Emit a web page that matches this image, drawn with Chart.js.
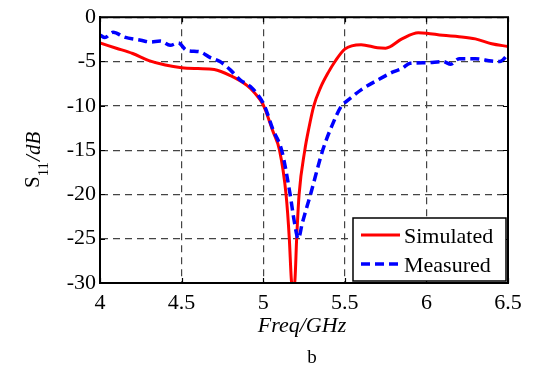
<!DOCTYPE html>
<html>
<head>
<meta charset="utf-8">
<script src="https://cdn.jsdelivr.net/npm/chart.js@4"></script>
<style>
html,body{margin:0;padding:0;background:#fff;}
#wrap{width:534px;height:366px;position:relative;}
</style>
</head>
<body>
<div id="wrap"><canvas id="c" width="534" height="366"></canvas></div>
<script>
// ---- data ----
const simFreq = [4.0,4.1,4.2,4.3,4.4,4.5,4.6,4.7,4.8,4.9,4.95,5.0,5.06,5.1,5.14,5.16,5.172,5.182,5.195,5.205,5.22,5.255,5.28,5.31,5.35,5.4,5.44,5.5,5.6,5.7,5.75,5.85,5.95,6.0,6.1,6.2,6.3,6.4,6.5];
const simS11  = [-2.9,-3.5,-4.1,-4.9,-5.4,-5.7,-5.8,-5.9,-6.6,-7.7,-8.6,-9.9,-12.9,-15,-20,-25,-29.5,-31,-29.5,-25,-20,-15,-12.5,-10,-8.0,-6.2,-5.0,-3.6,-3.1,-3.45,-3.5,-2.45,-1.75,-1.8,-2.05,-2.2,-2.45,-3.0,-3.3];
const measFreq = [4.0,4.03,4.08,4.15,4.25,4.31,4.37,4.43,4.48,4.53,4.61,4.67,4.735,4.8,4.86,4.92,4.98,5.01,5.06,5.113,5.165,5.19,5.215,5.24,5.29,5.365,5.42,5.48,5.51,5.55,5.6,5.7,5.8,5.85,5.9,6.0,6.1,6.15,6.2,6.3,6.4,6.45,6.5];
const measS11  = [-2.0,-2.3,-1.7,-2.25,-2.6,-2.8,-2.7,-3.17,-2.9,-3.73,-3.9,-4.5,-5.0,-5.97,-7.1,-7.8,-9.1,-10.1,-12.7,-15,-20,-23,-25,-23.2,-20,-15,-12.3,-10,-9.5,-8.9,-8.2,-7.1,-6.15,-5.8,-5.2,-5.15,-5.0,-5.3,-4.7,-4.7,-4.95,-5.0,-4.2];
const xTicks = [4,4.5,5,5.5,6,6.5];
const yTicks = [0,-5,-10,-15,-20,-25,-30];
const seriesNames = ['Simulated','Measured'];
const xTitle = 'Freq/GHz';
const caption = 'b';

const SERIF = '"Liberation Serif","Times New Roman",serif';

const pts = (xs, ys) => xs.map((x,i)=>({x:x,y:ys[i]}));

const decor = {
  id:'decor',
  afterDatasetsDraw(chart){
    const ctx = chart.ctx, a = chart.chartArea;
    const xs = chart.scales.x, ys = chart.scales.y;
    ctx.save();
    // inner ticks
    ctx.strokeStyle = '#000'; ctx.lineWidth = 1.2; ctx.setLineDash([]);
    xTicks.forEach(v=>{
      const px = Math.round(xs.getPixelForValue(v))+0.5;
      ctx.beginPath(); ctx.moveTo(px,a.bottom); ctx.lineTo(px,a.bottom-5);
      ctx.moveTo(px,a.top); ctx.lineTo(px,a.top+5); ctx.stroke();
    });
    yTicks.forEach(v=>{
      const py = Math.round(ys.getPixelForValue(v))+0.5;
      ctx.beginPath(); ctx.moveTo(a.left,py); ctx.lineTo(a.left+5,py);
      ctx.moveTo(a.right,py); ctx.lineTo(a.right-5,py); ctx.stroke();
    });
    // frame
    ctx.lineWidth = 2;
    ctx.strokeRect(a.left, a.top, a.right-a.left, a.bottom-a.top);

    // legend
    const lx = 353, ly = 218, lw = 153, lh = 63;
    ctx.fillStyle = '#fff'; ctx.fillRect(lx,ly,lw,lh);
    ctx.lineWidth = 1.5; ctx.strokeStyle = '#000'; ctx.strokeRect(lx,ly,lw,lh);
    const ds = chart.data.datasets;
    const rows = [235, 264];
    ds.forEach((d,i)=>{
      ctx.beginPath();
      ctx.strokeStyle = d.borderColor; ctx.lineWidth = d.borderWidth;
      ctx.setLineDash(d.borderDash || []);
      ctx.moveTo(361, rows[i]); ctx.lineTo(400, rows[i]); ctx.stroke();
      ctx.setLineDash([]);
      ctx.fillStyle = '#000'; ctx.font = '22px ' + SERIF;
      ctx.textAlign = 'left'; ctx.textBaseline = 'alphabetic';
      ctx.fillText(d.label, 404, rows[i] + 8);
    });

    // x title
    ctx.fillStyle = '#000';
    ctx.font = 'italic 22px ' + SERIF;
    ctx.textAlign = 'center'; ctx.textBaseline = 'alphabetic';
    ctx.fillText(xTitle, 302, 332);
    // caption
    ctx.font = '19px ' + SERIF;
    ctx.fillText(caption, 312, 363);

    // y title: S_11/dB rotated
    ctx.translate(39, 188);
    ctx.rotate(-Math.PI/2);
    ctx.textAlign = 'left';
    ctx.font = '21px ' + SERIF;
    ctx.fillText('S', 0, 0);
    let w = ctx.measureText('S').width;
    ctx.font = '15px ' + SERIF;
    ctx.fillText('11', w, 9);
    w += ctx.measureText('11').width + 1;
    ctx.font = 'italic 21px ' + SERIF;
    ctx.fillText('/dB', w, 1);
    ctx.restore();
  }
};

new Chart(document.getElementById('c'), {
  type:'line',
  data:{
    datasets:[
      { label:seriesNames[0], data:pts(simFreq, simS11), borderColor:'#ff0000', borderWidth:3,
        pointRadius:0, cubicInterpolationMode:'monotone', fill:false, order:1, clip:0 },
      { label:seriesNames[1], data:pts(measFreq, measS11), borderColor:'#0000ff', borderWidth:3.5,
        borderDash:[9,5], pointRadius:0, cubicInterpolationMode:'monotone', fill:false, order:0, clip:0 }
    ]
  },
  options:{
    responsive:false, animation:false,
    layout:{ padding:{ top:15, right:26, left:0, bottom:0 } },
    plugins:{ legend:{display:false}, tooltip:{enabled:false} },
    scales:{
      x:{
        type:'linear', min:4, max:6.5,
        afterBuildTicks(s){ s.ticks = xTicks.map(v=>({value:v})); },
        afterFit(s){ s.height = 83; },
        ticks:{ color:'#000', font:{family:SERIF, size:22}, padding:7,
          callback:(v)=>String(v) },
        grid:{ color:'#444', lineWidth:1.2, drawTicks:false },
        border:{ display:true, color:'#000', width:2, dash:[7,5] }
      },
      y:{
        min:-30, max:0,
        afterBuildTicks(s){ s.ticks = yTicks.map(v=>({value:v})); },
        afterFit(s){ s.width = 100; },
        ticks:{ color:'#000', font:{family:SERIF, size:22}, padding:4,
          callback:(v)=>String(v) },
        grid:{ color:'#444', lineWidth:1.2, drawTicks:false },
        border:{ display:true, color:'#000', width:2, dash:[7,5] }
      }
    }
  },
  plugins:[decor]
});
</script>
</body>
</html>
